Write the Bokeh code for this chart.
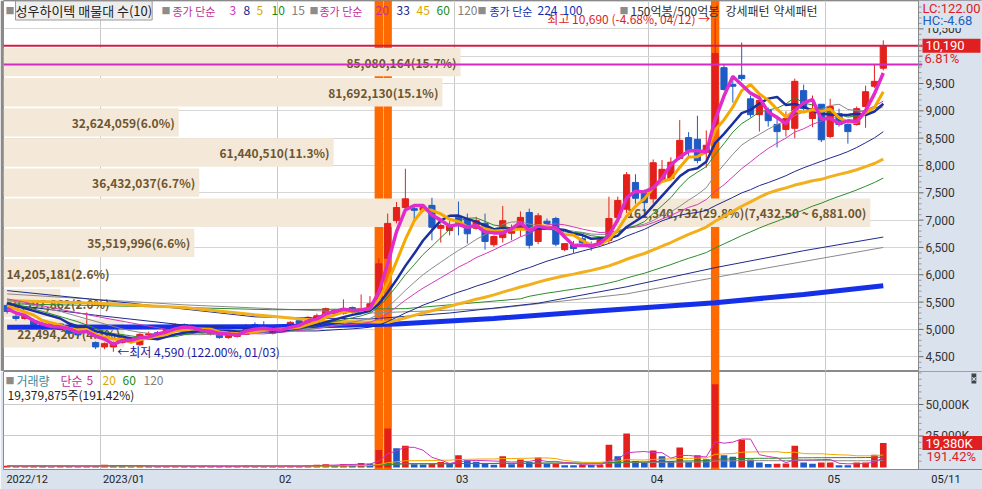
import numpy as np
import pandas as pd
from bokeh.plotting import figure
from bokeh.models import Range1d, Span, Label, FixedTicker, SingleIntervalTicker, Grid
from bokeh.layouts import column
from bokeh.core.properties import value
from bokeh.embed import file_html
from bokeh.resources import INLINE

# ---------------- data ----------------
opens = [5440, 5240, 5200, 5160, 5110, 5040, 5100, 5000, 4950, 4960,
         4760, 4680, 4680, 4760, 4830, 4720, 4900, 4940, 4940, 5020,
         5090, 5050, 5040, 4910, 4940, 4850, 4870, 4910, 5090, 5040,
         4930, 5040, 5070, 5160, 5110, 5130, 5270, 5290, 5290, 5400,
         5350, 5400, 5490, 6300, 6990, 7230, 7210, 7180, 7270, 6850,
         6810, 7050, 7010, 6850, 6940, 6550, 6680, 6760, 6830, 7140,
         6610, 6980, 7030, 6460, 6550, 6660, 6550, 6550, 6630, 7050,
         7200, 7690, 7490, 7390, 7740, 7760, 8130, 8510, 8480, 8240,
         8680, 9790, 9480, 9650, 9220, 8930, 9010, 8750, 8660, 8680,
         9370, 8860, 9120, 8530, 8950, 8750, 8750, 9080, 9450, 9780]
highs = [5490, 5270, 5270, 5200, 5130, 5140, 5120, 5020, 4980, 5310,
         4780, 4760, 4780, 4900, 4850, 4930, 4960, 4970, 5040, 5110,
         5110, 5090, 5060, 5000, 4960, 4940, 4950, 5100, 5130, 5150,
         5020, 5060, 5150, 5200, 5240, 5290, 5400, 5370, 5550, 5420,
         5640, 5610, 6300, 7120, 7330, 7940, 7250, 7250, 7410, 6940,
         6980, 7340, 7120, 7060, 7120, 6720, 7260, 6920, 7160, 7210,
         7130, 7030, 7060, 6580, 6620, 6720, 6610, 6660, 7430, 7430,
         7880, 7840, 7560, 8110, 8100, 8150, 8830, 8610, 8910, 8640,
         10690, 9850, 9650, 10250, 9280, 9280, 9060, 8910, 8990, 9590,
         9480, 9280, 9120, 9220, 9040, 8790, 9080, 9460, 9850, 10290]
lows = [5290, 5160, 5180, 5010, 5000, 5000, 4980, 4900, 4870, 4940,
        4640, 4640, 4590, 4740, 4740, 4700, 4880, 4900, 4930, 5000,
        5000, 4960, 4920, 4890, 4830, 4830, 4850, 4900, 5000, 4960,
        4910, 4960, 5050, 5090, 5090, 5110, 5250, 5270, 5270, 5290,
        5330, 5380, 5470, 6200, 6940, 7180, 7000, 7150, 6630, 6590,
        6720, 6720, 6570, 6830, 6460, 6510, 6590, 6630, 6700, 6480,
        6560, 6850, 6520, 6430, 6400, 6510, 6440, 6520, 6580, 6960,
        7130, 7300, 7160, 7310, 7690, 7730, 8100, 8160, 8040, 7960,
        8650, 9370, 9150, 9550, 8880, 8620, 8710, 8330, 8530, 8500,
        9010, 8700, 8430, 8500, 8710, 8400, 8730, 8690, 9420, 9740]
closes = [5330, 5200, 5240, 5030, 5020, 5110, 5000, 4930, 4900, 5050,
          4680, 4740, 4760, 4880, 4760, 4910, 4920, 4920, 5020, 5090,
          5020, 4980, 4940, 4980, 4850, 4920, 4920, 5070, 5020, 4980,
          5000, 4980, 5130, 5110, 5220, 5250, 5380, 5350, 5380, 5310,
          5380, 5470, 6200, 6940, 7230, 7390, 7180, 7230, 6870, 6900,
          6900, 6960, 6750, 6990, 6610, 6700, 6990, 6830, 7050, 6540,
          7080, 6940, 6560, 6570, 6480, 6590, 6510, 6630, 7030, 7360,
          7830, 7400, 7320, 8050, 7930, 8060, 8460, 8270, 8090, 8370,
          10050, 9390, 9450, 9590, 8930, 9190, 8820, 8620, 8860, 9540,
          9040, 9040, 8470, 9080, 8750, 8620, 9040, 9350, 9540, 10190]
volumes = [1300000, 1100000, 1200000, 1500000, 1200000, 1000000, 1300000, 1100000, 900000, 1400000,
           1200000, 2100000, 1500000, 1300000, 1000000, 1400000, 1100000, 900000, 1200000, 1300000,
           1000000, 900000, 1100000, 1000000, 900000, 1200000, 1000000, 1500000, 1100000, 1000000,
           900000, 1000000, 1300000, 1100000, 1600000, 2200000, 2600000, 2000000, 2800000, 2300000,
           3600000, 2900000, 13900000, 31000000, 15300000, 17200000, 2600000, 2400000, 2700000, 4400000,
           3600000, 9800000, 5700000, 4600000, 3200000, 2200000, 9000000, 2500000, 6300000, 4400000,
           7900000, 2800000, 2900000, 1800000, 1700000, 2000000, 1900000, 2100000, 18000000, 9000000,
           27000000, 5200000, 4300000, 13400000, 9000000, 5200000, 15800000, 4300000, 9800000, 6600000,
           66000000, 9800000, 8600000, 22000000, 6300000, 4000000, 2800000, 3000000, 3100000, 17200000,
           4000000, 3000000, 3900000, 4000000, 1800000, 1700000, 3900000, 4000000, 10124300, 19379875]

# month boundaries (index of first trading day) and labels
month_first_idx = [11, 31, 51, 73, 93]
month_labels = ["2023/01", "02", "03", "04", "05"]
first_label = "2022/12"
last_date_label = "05/11"
low_date, high_date = "01/03", "04/12"
highlight_idx = [42, 43, 80]          # 150억봉/500억봉 columns

# price / volume axis ticks
price_ticks = [4500, 5000, 5500, 6000, 6500, 7000, 7500, 8000, 8500, 9000, 9500, 10000, 10500]
vol_ticks = [25000000, 50000000]
vol_tick_labels = ["25,000K", "50,000K"]

# volume profile (매물대, 10 bands, bottom -> top)
band_edges = [4675.0, 5226.5, 5778.0, 6329.5, 6881.0, 7432.5, 7984.0, 8535.5, 9087.0, 9638.5, 10190.0]
band_vol = [22494207, 10597862, 14205181, 35519996, 161340732, 36432037, 61440510, 32624059, 81692130, 85080164]
band_pct = [4.2, 2.0, 2.6, 6.6, 29.8, 6.7, 11.3, 6.0, 15.1, 15.7]

# moving-average heads (values read where the window is not yet full) and long MAs
ma_short = [  # period, color, width, anchor idx, anchor values
    (60, "#2C8C2C", 1, [0, 15, 30, 45, 58], [5470, 5420, 5360, 5380, 5560]),
    (45, "#F2B01E", 3, [0, 10, 20, 28, 36, 43], [5530, 5480, 5400, 5270, 5150, 5130]),
    (33, "#1F2A8C", 1, [0, 10, 20, 31], [5460, 5260, 5080, 4990]),
    (20, "#D33AB8", 1, [0, 10, 18], [5560, 5240, 5000]),
    (15, "#8A8A8A", 1, [0, 6, 13], [5540, 5330, 5010]),
    (10, "#2C8C2C", 1, [0, 4, 8], [5500, 5330, 5140]),
    (8, "#1B2F9E", 2.5, [0, 3, 6], [5480, 5340, 5200]),
    (5, "#F5A800", 3, [0, 2, 3], [5430, 5320, 5260]),
    (3, "#E02CC8", 3.5, [0, 1], [5380, 5300]),
]
ma224_idx = [0, 30, 44, 55, 65, 80, 90, 99]
ma224_val = [5040, 5050, 5100, 5200, 5320, 5490, 5640, 5800]
ma120_idx = [0, 20, 41, 55, 70, 85, 99]
ma120_val = [5650, 5450, 5300, 5380, 5650, 6100, 6500]
ma100_idx = [0, 14, 28, 41, 50, 60, 70, 80, 90, 99]
ma100_val = [5710, 5480, 5230, 5190, 5300, 5480, 5780, 6130, 6440, 6690]

# ---------------- styling / geometry ----------------
FONT = "Noto Sans CJK KR"
RED = "#E3201B"
BLUE = "#1E5BC6"
ORANGE = "#FF6A00"
PANEL = "#DAE2EE"
TAN = "#F4E9D8"
n = len(closes)
idx = np.arange(n)

FW = 979                 # frame width (data area + right panel)
MH = 371                 # main frame height
VH = 98                  # volume frame height
X0 = -0.41
PPI = 8.85               # pixels per candle slot
XP = X0 + 915 / PPI      # where the right price panel starts
XF = X0 + FW / PPI
P_LO, P_HI = 4230, 11019
PPY = (P_HI - P_LO) / MH
V_LO, V_HI = -1.6e6, 76.2e6
VPY = (V_HI - V_LO) / VH


def px(d):
    return d / PPI


# ---------------- main price panel ----------------
p = figure(width=982, height=MH, x_range=Range1d(X0, XF), y_range=Range1d(P_LO, P_HI),
           output_backend="svg", toolbar_location=None, y_axis_location=None, x_axis_location=None,
           min_border_left=3, min_border_right=0, min_border_top=0, min_border_bottom=0)
p.border_fill_color = "#8A8A8A"
p.background_fill_color = "white"
p.outline_line_color = "#8a8a8a"
p.grid.visible = False
month_grid = [m - 0.5 for m in month_first_idx]
p.add_layout(Grid(dimension=0, ticker=FixedTicker(ticks=month_grid), grid_line_color="#C9C9C9"))
p.add_layout(Grid(dimension=1, ticker=SingleIntervalTicker(interval=500), grid_line_color="#D6D6D6"))

# right panel background
p.quad(left=[XP], right=[XF], bottom=[P_LO], top=[P_HI], fill_color=PANEL, line_color=None)

# orange highlight columns
p.vbar(x=highlight_idx, width=0.95, top=P_HI, bottom=P_LO, fill_color=ORANGE, line_color=None)

# volume profile bars
p.extra_x_ranges = {"vp": Range1d(0, 170.3e6 * FW / 915)}
lo = np.array(band_edges[:-1])
hi = np.array(band_edges[1:])
step = hi - lo
ymid = lo + 0.46 * step
p.hbar(y=ymid, height=0.94 * step, left=0, right=band_vol, x_range_name="vp",
       fill_color=TAN, line_color=None)
imax = int(np.argmax(band_vol))
texts = []
for k, (v, pc) in enumerate(zip(band_vol, band_pct)):
    t = f"{v:,}({pc:.1f}%)"
    if k == imax:
        t += f"({hi[k]:,.2f} ~ {lo[k]:,.2f})"
    texts.append(t)
right_k = [k for k in range(10) if band_vol[k] >= 20e6]
left_k = [k for k in range(10) if band_vol[k] < 20e6]
p.text(x=[band_vol[k] for k in right_k], y=[ymid[k] for k in right_k], text=[texts[k] for k in right_k],
       x_range_name="vp", text_align="right", text_baseline="middle", x_offset=-4,
       text_font=value(FONT), text_font_size="12px", text_font_style="bold", text_color="#6E5630")
p.text(x=[0 for k in left_k], y=[ymid[k] for k in left_k], text=[texts[k] for k in left_k],
       x_range_name="vp", text_align="left", text_baseline="middle", x_offset=3,
       text_font=value(FONT), text_font_size="12px", text_font_style="bold", text_color="#6E5630")

# candles
o = np.array(opens, float)
c = np.array(closes, float)
colors = [RED if cc >= oo else BLUE for oo, cc in zip(o, c)]
p.segment(x0=idx, y0=lows, x1=idx, y1=highs, line_color=colors, line_width=1)
p.vbar(x=idx, width=0.7, top=np.maximum(o, c), bottom=np.minimum(o, c),
       fill_color=colors, line_color=colors, line_width=1)

# moving averages
cl = pd.Series(closes, dtype=float)
p.line(ma224_idx, ma224_val, line_color="#1530E8", line_width=5)
p.line(ma120_idx, ma120_val, line_color="#8A8A8A", line_width=1)
p.line(ma100_idx, ma100_val, line_color="#1F2A8C", line_width=1)
for per, col, w, aidx, aval in ma_short:
    full = cl.rolling(per).mean()
    xs = list(aidx) + list(range(per - 1, n))
    ys = list(aval) + list(full.iloc[per - 1:])
    p.line(xs, ys, line_color=col, line_width=w)

# horizontal lines: last close and previous high (run a little into the panel)
p.segment(x0=[X0, X0], x1=[XP + px(4), XP + px(4)], y0=[closes[-1], highs[-2]], y1=[closes[-1], highs[-2]],
          line_color=["#D21E44", "#D42AC4"], line_width=2)

# price axis drawn inside the panel
p.add_layout(Span(location=XP, dimension="height", line_color="#888888", line_width=1))
minor = [v for v in range(4300, 11000, 100) if v % 500 != 0]
p.segment(x0=XP, x1=XP + px(3), y0=minor, y1=minor, line_color="#999999", line_width=1)
p.segment(x0=XP, x1=XP + px(5), y0=price_ticks, y1=price_ticks, line_color="#666666", line_width=1)
p.text(x=[XP + px(7)] * len(price_ticks), y=price_ticks, text=[f"{t:,}" for t in price_ticks],
       text_font=value("Roboto"), text_font_size="12px", text_color="#333333", text_baseline="middle")

low_i = int(np.argmin(lows))
high_i = int(np.argmax(highs))
lc = (closes[-1] / lows[low_i] - 1) * 100
hc = (closes[-1] / highs[high_i] - 1) * 100
chg = (closes[-1] / closes[-2] - 1) * 100

# last close box and change label (with panel-coloured backing)
p.quad(left=[XP + px(4)], right=[XP + px(62)], bottom=[closes[-1] - 20 * PPY], top=[closes[-1] - 6 * PPY],
       fill_color=PANEL, line_color=None)
p.quad(left=[XP + px(4)], right=[XP + px(62)], bottom=[closes[-1] - 7 * PPY], top=[closes[-1] + 7 * PPY],
       fill_color="#E02020", line_color=None)
p.text(x=[XP + px(7)], y=[closes[-1]], text=[f"{closes[-1]:,}"], text_font=value("Roboto"),
       text_font_size="13px", text_color="white", text_baseline="middle")
p.text(x=[XP + px(6)], y=[closes[-1] - 13 * PPY], text=[f"{chg:.2f}%"], text_font=value("Roboto"),
       text_font_size="13px", text_color="#E02020", text_baseline="middle")

p.add_layout(Label(x=low_i, y=lows[low_i], x_offset=4,
                   text=f"←최저 {lows[low_i]:,} ({lc:.2f}%, {low_date})",
                   text_baseline="middle", text_font=FONT, text_font_size="12px", text_color="#1A1AA0"))
p.add_layout(Label(x=high_i, y=highs[high_i], x_offset=-5,
                   text=f"최고 {highs[high_i]:,} ({hc:.2f}%, {high_date}) →",
                   text_align="right", text_baseline="middle", text_font=FONT, text_font_size="12px",
                   text_color="#E01E1E"))

# LC / HC labels in the panel
p.add_layout(Label(x=919, y=MH - 8, x_units="screen", y_units="screen", text=f"LC:{lc:.2f}",
                   text_color="#E02020", text_font="Roboto", text_font_size="13px", text_baseline="middle",
                   background_fill_color=PANEL))
p.add_layout(Label(x=919, y=MH - 20, x_units="screen", y_units="screen", text=f"HC:{hc:.2f}",
                   text_color="#2060C0", text_font="Roboto", text_font_size="13px", text_baseline="middle",
                   background_fill_color=PANEL))

# top legend
legend_row1 = [
    (5, "■", "#8C8C8C", "9px"),
    (161, "■", "#8C8C8C", "9px"), (172, "종가 단순", "#C0309A", "11px"), (229, "3", "#D030C0", "12px"),
    (243, "8", "#20208A", "12px"), (256, "5", "#D8A800", "12px"), (271, "10", "#208A20", "12px"),
    (291, "15", "#808080", "12px"),
    (309, "■", "#8C8C8C", "9px"), (319, "종가 단순", "#C0309A", "11px"), (375, "20", "#C0309A", "12px"),
    (396, "33", "#20208A", "12px"), (416, "45", "#D8A800", "12px"), (436, "60", "#208A20", "12px"),
    (457, "120", "#808080", "12px"),
    (477, "■", "#8C8C8C", "9px"), (489, "종가 단순", "#1030B0", "11px"), (537, "224", "#1030B0", "12px"),
    (562, "100", "#1030B0", "12px"),
    (619, "■", "#8C8C8C", "9px"), (630, "150억봉/500억봉", "#333333", "12px"),
    (725, "강세패턴", "#333333", "12px"), (773, "약세패턴", "#333333", "12px"),
]
for xr, t, col, fs in legend_row1:
    p.add_layout(Label(x=xr - 3, y=MH - 10, x_units="screen", y_units="screen", text=t,
                       text_color=col, text_font=FONT, text_font_size=fs, text_baseline="middle"))
p.add_layout(Label(x=12, y=MH - 10, x_units="screen", y_units="screen", text="성우하이텍 매물대 수(10)",
                   text_color="#222222", text_font=FONT, text_font_size="13px", text_baseline="middle",
                   background_fill_color="#EDEDED", border_line_color="#9A9A9A"))

# ---------------- volume panel ----------------
pv = figure(width=982, height=118, x_range=p.x_range, y_range=Range1d(V_LO, V_HI),
            output_backend="svg", toolbar_location=None, y_axis_location=None,
            min_border_left=3, min_border_right=0, min_border_top=0, min_border_bottom=20)
pv.border_fill_color = PANEL
pv.outline_line_color = "#8a8a8a"
pv.grid.visible = False
pv.add_layout(Grid(dimension=0, ticker=FixedTicker(ticks=month_grid), grid_line_color="#C9C9C9"))
pv.add_layout(Grid(dimension=1, ticker=FixedTicker(ticks=vol_ticks), grid_line_color="#C9C9C9"))

xax = pv.xaxis[0]
all_labels = [first_label] + month_labels + [last_date_label]
label_pos = [X0 + px(2 + len(first_label) * 3.1)] + \
            [g + px(2 + len(t) * 3.1) for g, t in zip(month_grid, month_labels)] + \
            [XP + px(12 + len(last_date_label) * 3.1)]
xax.ticker = FixedTicker(ticks=label_pos)
xax.major_label_overrides = {pos: t for pos, t in zip(label_pos, all_labels)}
xax.major_tick_line_color = None
xax.minor_tick_line_color = None
xax.major_tick_out = 0
xax.major_tick_in = 0
xax.major_label_standoff = 3
xax.axis_line_color = "#888888"
xax.major_label_text_font = "Roboto"
xax.major_label_text_font_size = "11px"
xax.major_label_text_color = "#222222"

pv.quad(left=[XP], right=[XF], bottom=[V_LO], top=[V_HI], fill_color=PANEL, line_color=None)
pv.vbar(x=highlight_idx, width=0.95, top=V_HI, bottom=V_LO, fill_color=ORANGE, line_color=None)
vcol = [RED] + [RED if volumes[i] >= volumes[i - 1] else BLUE for i in range(1, n)]
pv.vbar(x=idx, width=0.75, top=volumes, bottom=0, fill_color=vcol, line_color=None)
vs = pd.Series(volumes, dtype=float)
for per, col in [(120, "#8A8A8A"), (60, "#2C8C2C"), (20, "#F0A800"), (5, "#D030C0")]:
    pv.line(idx, vs.rolling(per, min_periods=1).mean(), line_color=col, line_width=1)

# volume axis inside the panel
pv.add_layout(Span(location=XP, dimension="height", line_color="#888888", line_width=1))
vminor = [k * 5000000 for k in range(1, 16) if (k * 5000000) not in vol_ticks]
pv.segment(x0=XP, x1=XP + px(3), y0=vminor, y1=vminor, line_color="#999999", line_width=1)
pv.segment(x0=XP, x1=XP + px(5), y0=vol_ticks, y1=vol_ticks, line_color="#666666", line_width=1)
pv.text(x=[XP + px(7)] * len(vol_ticks), y=vol_ticks, text=vol_tick_labels,
        text_font=value("Roboto"), text_font_size="12px", text_color="#333333", text_baseline="middle")
vchg = volumes[-1] / volumes[-2] * 100
pv.quad(left=[XP + px(4)], right=[XP + px(64)], bottom=[volumes[-1] - 7 * VPY], top=[volumes[-1] + 7 * VPY],
        fill_color="#E02020", line_color=None)
pv.text(x=[XP + px(7)], y=[volumes[-1]], text=[f"{volumes[-1] / 1000:,.0f}K"], text_font=value("Roboto"),
        text_font_size="13px", text_color="white", text_baseline="middle")
pv.text(x=[XP + px(8)], y=[volumes[-1] - 13 * VPY], text=[f"{vchg:.2f}%"], text_font=value("Roboto"),
        text_font_size="13px", text_color="#E02020", text_baseline="middle")
pv.add_layout(Label(x=968, y=VH - 7, x_units="screen", y_units="screen", text="×", text_color="white",
                    text_font="Roboto", text_font_size="9px", text_baseline="middle",
                    background_fill_color="#444444"))

vol_legend = [(5, "■", "#8C8C8C", "9px"), (16, "거래량", "#3A8AA0", "12px"), (60, "단순", "#C0309A", "12px"),
              (86, "5", "#C0309A", "12px"), (102, "20", "#D8A800", "12px"), (122, "60", "#208A20", "12px"),
              (143, "120", "#808080", "12px")]
for xr, t, col, fs in vol_legend:
    pv.add_layout(Label(x=xr - 3, y=VH - 9, x_units="screen", y_units="screen", text=t,
                        text_color=col, text_font=FONT, text_font_size=fs, text_baseline="middle"))
pv.add_layout(Label(x=4, y=VH - 23, x_units="screen", y_units="screen",
                    text=f"{volumes[-1]:,}주({vchg:.2f}%)", text_color="#222222", text_font=FONT,
                    text_font_size="12px", text_baseline="middle"))

layout = column(p, pv, spacing=0)
open("out.html", "w").write(file_html(layout, INLINE))
